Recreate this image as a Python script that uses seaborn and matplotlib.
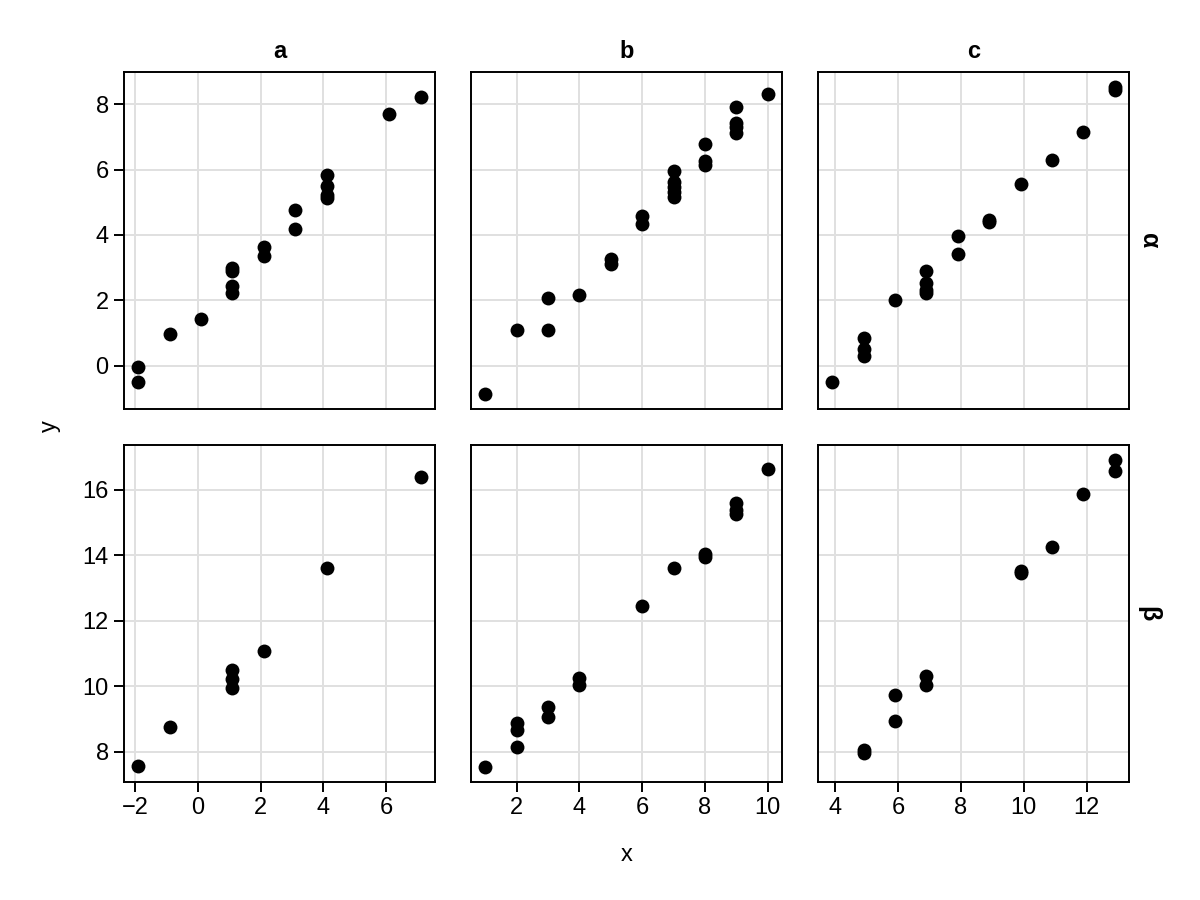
import numpy as np
import matplotlib
matplotlib.use("Agg")
import matplotlib.pyplot as plt
from matplotlib.ticker import MultipleLocator
import pandas as pd
import seaborn as sns

# values, one pair of lists per panel
a_alpha_x = [-1.9, -1.9, -0.9, 0.1, 1.1, 1.1, 1.1, 1.1, 2.1, 2.1, 3.1, 3.1, 4.1, 4.1, 4.1, 4.1, 6.1, 7.1]
a_alpha_y = [-0.05, -0.49, 0.96, 1.42, 2.99, 2.89, 2.44, 2.21, 3.62, 3.35, 4.77, 4.18, 5.84, 5.51, 5.23, 5.13, 7.69, 8.22]

b_alpha_x = [1, 2, 3, 3, 4, 5, 5, 6, 6, 7, 7, 7, 7, 7, 8, 8, 8, 9, 9, 9, 9, 10]
b_alpha_y = [-0.86, 1.08, 1.08, 2.07, 2.16, 3.25, 3.11, 4.58, 4.32, 5.97, 5.61, 5.46, 5.31, 5.16,
             6.78, 6.27, 6.15, 7.93, 7.44, 7.29, 7.11, 8.33]

c_alpha_x = [3.9, 4.9, 4.9, 4.9, 5.9, 6.9, 6.9, 6.9, 6.9, 7.9, 7.9, 8.9, 8.9, 9.9, 10.9, 11.9, 12.9, 12.9]
c_alpha_y = [-0.51, 0.84, 0.51, 0.28, 2.01, 2.89, 2.54, 2.31, 2.21, 3.97, 3.41, 4.45, 4.40, 5.56, 6.29, 7.14, 8.52, 8.45]

a_beta_x = [-1.9, -0.9, 1.1, 1.1, 1.1, 2.1, 4.1, 7.1]
a_beta_y = [7.57, 8.76, 10.48, 10.21, 9.94, 11.09, 13.60, 16.39]

b_beta_x = [1, 2, 2, 2, 3, 3, 4, 4, 6, 7, 8, 8, 9, 9, 9, 10]
b_beta_y = [7.54, 8.13, 8.66, 8.87, 9.35, 9.05, 10.26, 10.04, 12.45, 13.60, 14.04, 13.96, 15.61, 15.39, 15.27, 16.63]

c_beta_x = [4.9, 4.9, 5.9, 5.9, 6.9, 6.9, 9.9, 9.9, 10.9, 11.9, 12.9, 12.9]
c_beta_y = [8.05, 7.96, 8.94, 9.73, 10.04, 10.31, 13.52, 13.46, 14.24, 15.88, 16.56, 16.90]

col_names = ["a", "b", "c"]
row_names = ["α", "β"]

panels = {
    ("a", "α"): (a_alpha_x, a_alpha_y),
    ("b", "α"): (b_alpha_x, b_alpha_y),
    ("c", "α"): (c_alpha_x, c_alpha_y),
    ("a", "β"): (a_beta_x, a_beta_y),
    ("b", "β"): (b_beta_x, b_beta_y),
    ("c", "β"): (c_beta_x, c_beta_y),
}

frames = []
for (c, r), (xs, ys) in panels.items():
    frames.append(pd.DataFrame({"x": xs, "y": ys, "col": c, "row": r}))
df = pd.concat(frames, ignore_index=True)

sns.set_theme(style="whitegrid")
plt.rcParams["font.family"] = ["Liberation Sans", "DejaVu Sans"]
plt.rcParams.update({
    "text.color": "black",
    "axes.labelcolor": "black",
    "axes.edgecolor": "black",
    "axes.linewidth": 1.4,
    "grid.color": "#e0e0e0",
    "grid.linewidth": 1.4,
    "xtick.bottom": True,
    "ytick.left": True,
    "xtick.major.size": 7,
    "ytick.major.size": 7,
    "xtick.major.width": 1.4,
    "ytick.major.width": 1.4,
    "xtick.color": "black",
    "ytick.color": "black",
    "xtick.labelsize": 17,
    "ytick.labelsize": 17,
    "xtick.major.pad": 4,
    "ytick.major.pad": 4,
})

g = sns.relplot(
    data=df, x="x", y="y", col="col", row="row",
    col_order=col_names, row_order=row_names,
    color="black", s=100, linewidth=0,
    height=3, aspect=1,
    facet_kws=dict(sharex="col", sharey="row", margin_titles=False),
)

fig = g.figure
fig.set_size_inches(12, 9)
fig.subplots_adjust(left=0.1033, right=0.9408, top=0.92, bottom=0.1311,
                    wspace=0.116, hspace=0.107)

g.set_titles("")
g.set_axis_labels("", "")

for i, r in enumerate(row_names):
    for j, c in enumerate(col_names):
        ax = g.axes[i, j]
        ax.set_title("")
        ax.xaxis.set_major_locator(MultipleLocator(2))
        ax.yaxis.set_major_locator(MultipleLocator(2))
        for sp in ax.spines.values():
            sp.set_visible(True)
            sp.set_color("black")
            sp.set_linewidth(1.4)
        ax.set_axisbelow(True)
        if i == 0:
            ax.set_title(c, fontsize=17, fontweight="bold", pad=10, color="black")
            ax.tick_params(axis="x", length=0)
        if j > 0:
            ax.tick_params(axis="y", length=0)
        if j == 2:
            ax.text(1.025, 0.5, r, transform=ax.transAxes, rotation=270,
                    ha="left", va="center", fontsize=18, fontweight="bold",
                    color="black")

fig.text(0.522, 0.05, "x", ha="center", va="center", fontsize=17, color="black")
fig.text(0.042, 0.527, "y", ha="center", va="center", rotation=90, fontsize=17,
         color="black")

fig.savefig("out.png", dpi=100)
